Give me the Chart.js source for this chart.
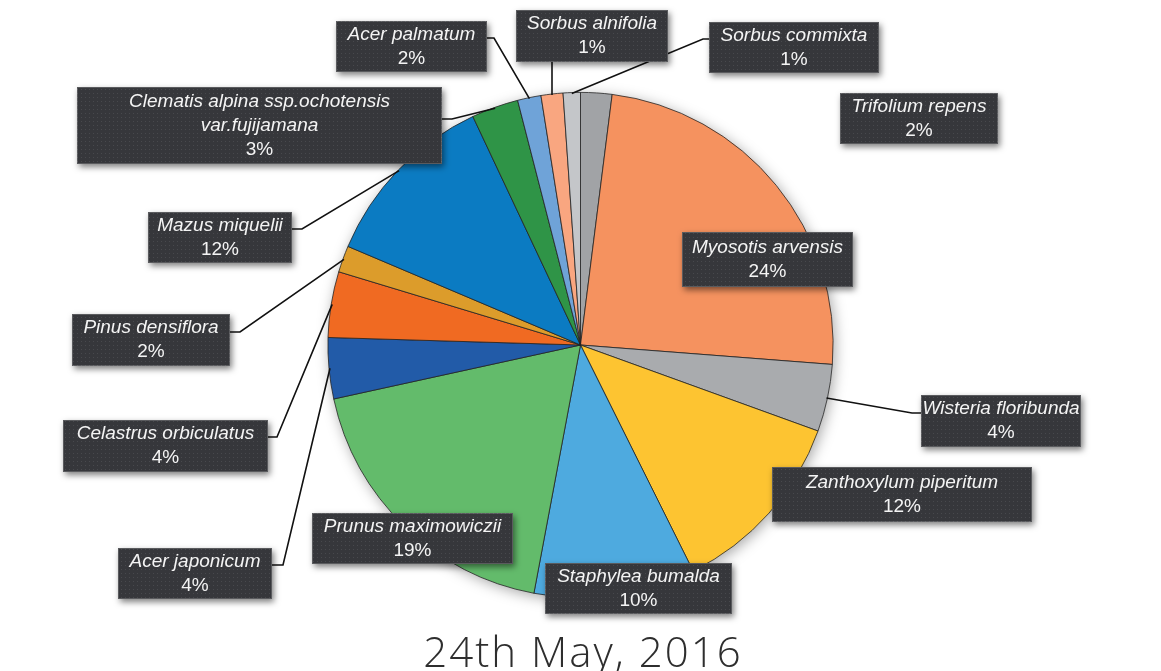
<!DOCTYPE html>
<html>
<head>
<meta charset="utf-8">
<script src="https://cdn.jsdelivr.net/npm/chart.js@4.4.1/dist/chart.umd.min.js"></script>
<style>
  html, body { margin: 0; padding: 0; background: #ffffff; }
  #wrap { width: 1161px; height: 671px; position: relative; }
</style>
</head>
<body>
<div id="wrap"><canvas id="c" width="1161" height="671"></canvas></div>
<script>
// ---- Data ----
const categories = [
  'Trifolium repens', 'Myosotis arvensis', 'Wisteria floribunda', 'Zanthoxylum piperitum',
  'Staphylea bumalda', 'Prunus maximowiczii', 'Acer japonicum', 'Celastrus orbiculatus',
  'Pinus densiflora', 'Mazus miquelii', 'Clematis alpina ssp.ochotensis\nvar.fujijamana',
  'Acer palmatum', 'Sorbus alnifolia', 'Sorbus commixta'
];
const values = [2.0, 24.2, 4.3, 12.1, 10.3, 18.6, 3.9, 4.2, 1.7, 11.6, 3.0, 1.5, 1.4, 1.1];
const percentLabels = ['2%', '24%', '4%', '12%', '10%', '19%', '4%', '4%', '2%', '12%', '3%', '2%', '1%', '1%'];
const sliceColors = [
  '#a1a3a6', '#f5925f', '#a9abae', '#fdc431', '#4eaadf', '#63bb6b', '#225ba8',
  '#f06a22', '#dc9c2b', '#0b7bc2', '#2f9447', '#6fa3d8', '#f9a680', '#c4c6c9'
];
const chartTitle = '24th May, 2016';

// ---- Layout of the callout boxes (positions only) ----
const boxes = [
  { x: 840, y: 93,  w: 158, h: 51 },                                   // Trifolium
  { x: 682, y: 232, w: 171, h: 55 },                                   // Myosotis
  { x: 921, y: 395, w: 160, h: 52, elbow: [[921, 413], [912, 413]] },  // Wisteria
  { x: 772, y: 467, w: 260, h: 55 },                                   // Zanthoxylum
  { x: 545, y: 563, w: 187, h: 51 },                                   // Staphylea
  { x: 312, y: 513, w: 201, h: 51 },                                   // Prunus
  { x: 118, y: 548, w: 154, h: 51, elbow: [[272, 565], [283, 565]] },  // Acer japonicum
  { x: 63,  y: 420, w: 205, h: 52, elbow: [[268, 437], [277, 437]] },  // Celastrus
  { x: 72,  y: 314, w: 158, h: 52, elbow: [[230, 332], [240, 332]] },  // Pinus
  { x: 148, y: 212, w: 144, h: 51, elbow: [[292, 229], [302, 229]] },  // Mazus
  { x: 77,  y: 87,  w: 365, h: 77, elbow: [[442, 119], [452, 119]] },  // Clematis
  { x: 336, y: 21,  w: 151, h: 51, elbow: [[487, 38], [494, 38]] },    // Acer palmatum
  { x: 516, y: 10,  w: 152, h: 52, elbow: [[552, 62], [552, 62]], vertical: true }, // Sorbus alnifolia
  { x: 709, y: 22,  w: 170, h: 51, elbow: [[709, 39], [703, 39]] }     // Sorbus commixta
];

// dotted texture for the callouts
function makePattern(ctx) {
  const p = document.createElement('canvas');
  p.width = 4; p.height = 4;
  const g = p.getContext('2d');
  g.fillStyle = '#36373b';
  g.fillRect(0, 0, 4, 4);
  g.fillStyle = '#48494d';
  g.fillRect(1, 1, 1, 1);
  return ctx.createPattern(p, 'repeat');
}

const pieShadow = {
  id: 'pieShadow',
  beforeDatasetsDraw(chart) {
    const arc = chart.getDatasetMeta(0).data[0];
    if (!arc) return;
    const ctx = chart.ctx;
    ctx.save();
    ctx.shadowColor = 'rgba(0,0,0,0.35)';
    ctx.shadowBlur = 14;
    ctx.shadowOffsetX = 2;
    ctx.shadowOffsetY = 3;
    ctx.fillStyle = '#ffffff';
    ctx.beginPath();
    ctx.arc(arc.x, arc.y, arc.outerRadius, 0, Math.PI * 2);
    ctx.fill();
    ctx.restore();
  }
};

const callouts = {
  id: 'callouts',
  afterDatasetsDraw(chart) {
    const ctx = chart.ctx;
    const meta = chart.getDatasetMeta(0);
    const pattern = makePattern(ctx);
    // leader lines
    ctx.save();
    ctx.strokeStyle = '#111111';
    ctx.lineWidth = 1.6;
    meta.data.forEach((arc, i) => {
      const b = boxes[i];
      if (!b.elbow) return;
      const p = arc.getProps(['x', 'y', 'startAngle', 'endAngle', 'outerRadius'], true);
      const mid = (p.startAngle + p.endAngle) / 2;
      let ex = p.x + Math.cos(mid) * (p.outerRadius - 1);
      let ey = p.y + Math.sin(mid) * (p.outerRadius - 1);
      if (b.vertical) { ex = b.elbow[0][0]; }
      ctx.beginPath();
      ctx.moveTo(b.elbow[0][0], b.elbow[0][1]);
      ctx.lineTo(b.elbow[1][0], b.elbow[1][1]);
      ctx.lineTo(ex, ey);
      ctx.stroke();
    });
    ctx.restore();
    // boxes
    meta.data.forEach((arc, i) => {
      const b = boxes[i];
      ctx.save();
      ctx.shadowColor = 'rgba(0,0,0,0.5)';
      ctx.shadowBlur = 6;
      ctx.shadowOffsetX = 2;
      ctx.shadowOffsetY = 3;
      ctx.fillStyle = pattern;
      ctx.fillRect(b.x, b.y, b.w, b.h);
      ctx.restore();
      ctx.save();
      ctx.strokeStyle = 'rgba(255,255,255,0.18)';
      ctx.lineWidth = 1;
      ctx.strokeRect(b.x + 0.5, b.y + 0.5, b.w - 1, b.h - 1);
      ctx.restore();
      const nameLines = categories[i].split('\n');
      const lines = nameLines.length + 1;
      const lh = 24;
      const cx = b.x + b.w / 2;
      const cy = b.y + b.h / 2;
      const y0 = cy - (lines - 1) * lh / 2;
      ctx.save();
      ctx.fillStyle = '#f4f4f4';
      ctx.textAlign = 'center';
      ctx.textBaseline = 'middle';
      ctx.font = 'italic 19px "Liberation Sans", Arial, sans-serif';
      nameLines.forEach((t, k) => ctx.fillText(t, cx, y0 + k * lh));
      ctx.font = '19px "Liberation Sans", Arial, sans-serif';
      ctx.fillText(percentLabels[i], cx, y0 + nameLines.length * lh);
      ctx.restore();
    });
    // title
    ctx.save();
    ctx.fillStyle = '#2e2e2e';
    ctx.textAlign = 'center';
    ctx.textBaseline = 'alphabetic';
    ctx.font = '300 42px "Open Sans", "Liberation Sans", sans-serif';
    if ('letterSpacing' in ctx) ctx.letterSpacing = '2px';
    ctx.fillText(chartTitle, 583, 667);
    ctx.restore();
  }
};

new Chart(document.getElementById('c'), {
  type: 'pie',
  data: {
    labels: categories,
    datasets: [{
      data: values,
      backgroundColor: sliceColors,
      borderColor: '#222222',
      borderWidth: 0.8,
      hoverOffset: 0
    }]
  },
  options: {
    responsive: false,
    animation: false,
    layout: { padding: { top: 92, bottom: 73, left: 0, right: 0 } },
    plugins: {
      legend: { display: false },
      tooltip: { enabled: false },
      title: { display: false }
    }
  },
  plugins: [pieShadow, callouts]
});
</script>
</body>
</html>
